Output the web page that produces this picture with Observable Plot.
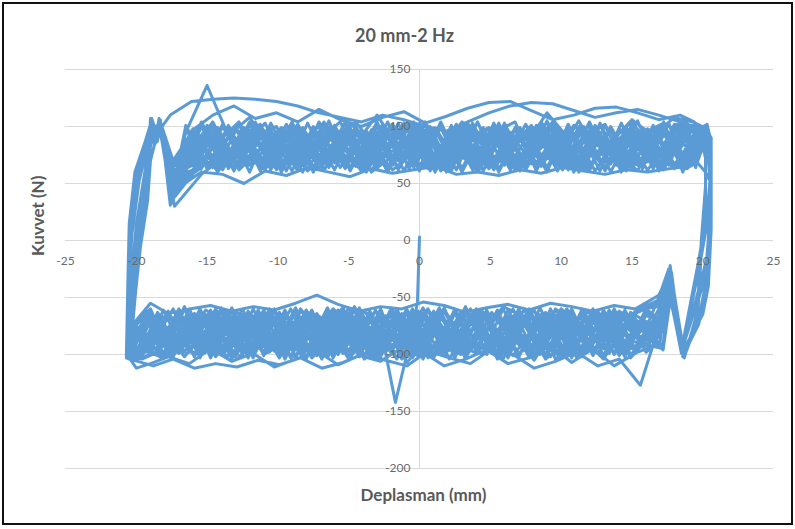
<!DOCTYPE html>
<html>
<head>
<meta charset="utf-8">
<script src="https://cdn.jsdelivr.net/npm/d3@7"></script>
<script src="https://cdn.jsdelivr.net/npm/@observablehq/plot@0.6"></script>
<style>
  html, body { margin: 0; padding: 0; background: #fff; }
  #wrap { position: relative; width: 795px; height: 529px; }
  #frame { position: absolute; left: 2px; top: 2px; width: 791px; height: 523px; border: 2px solid #111; box-sizing: border-box; pointer-events: none; }
</style>
</head>
<body>
<div id="wrap"><div id="frame"></div></div>
<script>
// ---- Chart texts ----
const chartTitle = "20 mm-2 Hz";
const xTitle = "Deplasman (mm)";
const yTitle = "Kuvvet (N)";
const xTicks = [-25, -20, -15, -10, -5, 0, 5, 10, 15, 20, 25];
const yTicks = [-200, -150, -100, -50, 0, 50, 100, 150];

// ---- Initial loading segment ----
const x0 = [0, -0.15, -0.9, -1.7, -2.5, -4, -5.5, -7, -8.5, -10, -11.5, -13, -14.5, -16, -17.5, -19, -20.3];
const f0 = [3, -55, -100, -142, -92, -74, -60, -84, -70, -96, -66, -82, -91, -70, -86, -97, -101];

// ---- Displacement sampling (four interleaved sets) ----
const xTopA = [-20.6,-20.6,-20.3,-19.8,-18.9,-18.6,-18.4,-17.5,
  -16.5,-15,-13.5,-12,-10.5,-9,-7.5,-6,-4.5,-3,-1.5,0,1.5,3,4.5,6,7.5,9,10.5,12,13.5,15,16.5,18,
  19.3,20.3,20.5];
const xTopB = [-20.5,-20.4,-20.0,-19.4,-19.0,-18.7,-18.3,-17.4,
  -16,-14.25,-12.75,-11.25,-9.75,-8.25,-6.75,-5.25,-3.75,-2.25,-0.75,0.75,2.25,3.75,5.25,6.75,8.25,9.75,11.25,12.75,14.25,15.75,17.25,18.6,
  19.6,20.4,20.5];
const xTopC = [-20.4,-20.1,-19.7,-19.2,-19.0,-18.6,-18.3,-17.6,
  -16.1,-14.6,-13.1,-11.6,-10.1,-8.6,-7.1,-5.6,-4.1,-2.6,-1.1,0.4,1.9,3.4,4.9,6.4,7.9,9.4,10.9,12.4,13.9,15.4,16.9,18.4,
  19.4,19.9,20.2];
const xTopD = [-20.7,-20.6,-20.5,-20.1,-18.9,-18.5,-18.4,-17.3,
  -15.4,-13.9,-12.4,-10.9,-9.4,-7.9,-6.4,-4.9,-3.4,-1.9,-0.4,1.1,2.6,4.1,5.6,7.1,8.6,10.1,11.6,13.1,14.6,16.1,17.6,18.9,
  19.5,20.2,20.6];
const xBotA = [20.5,20.4,20.1,19.7,18.6,17.7,17.0,
  16,14.5,13,11.5,10,8.5,7,5.5,4,2.5,1,-0.5,-2,-3.5,-5,-6.5,-8,-9.5,-11,-12.5,-14,-15.5,-17,
  -18.5,-19.6,-20.4];
const xBotB = [20.6,20.3,19.9,19.6,18.5,17.6,16.9,
  15.25,13.75,12.25,10.75,9.25,7.75,6.25,4.75,3.25,1.75,0.25,-1.25,-2.75,-4.25,-5.75,-7.25,-8.75,-10.25,-11.75,-13.25,-14.75,-16.25,-17.75,
  -19,-20,-20.6];
const xBotC = [20.2,19.9,19.7,19.5,18.7,17.7,17.1,
  15.6,14.1,12.6,11.1,9.6,8.1,6.6,5.1,3.6,2.1,0.6,-0.9,-2.4,-3.9,-5.4,-6.9,-8.4,-9.9,-11.4,-12.9,-14.4,-15.9,-17.4,
  -18.8,-19.9,-20.5];
const xBotD = [20.6,20.6,20.4,20.0,18.5,17.8,17.2,
  14.9,13.4,11.9,10.4,8.9,7.4,5.9,4.4,2.9,1.4,-0.1,-1.6,-3.1,-4.6,-6.1,-7.6,-9.1,-10.6,-12.1,-13.6,-15.1,-16.6,-18.1,
  -19.2,-20.1,-20.6];

// ---- Force readings, upper branch (moving right) per cycle ----
const topForces = [
  [-98,-42,12,58,106,92,105,34, 64,84,70,97,66,88,72,101,65,84,70,95,62,90,76,100,68,86,63,97,74,90,66,88, 80,96,82],
  [-102,-55,0,45,98,88,100,40, 75,96,62,80,99,68,90,64,95,78,104,66,86,70,99,63,92,75,105,70,84,64,100,72, 92,86,70],
  [-95,-50,-5,35,70,90,98,110, 122,124,125,124,122,118,112,108,104,110,106,100,96,104,112,118,121,120,114,108,112,115,110,104, 100,90,75],
  [-100,-38,15,60,104,94,107,30, 58,72,90,67,83,61,78,96,60,74,92,68,81,60,88,70,65,94,61,79,90,62,85,69, 75,100,88],
  [-97,-45,8,52,100,86,102,45, 95,136,92,108,80,102,77,93,85,110,82,96,79,104,88,98,84,112,90,100,86,106,92,108, 104,98,85],
  [-104,-60,-8,40,95,85,97,50, 70,65,88,74,62,85,98,71,66,90,73,62,96,77,69,87,99,66,73,92,68,97,73,64, 90,70,55],
  [-99,-47,5,50,107,90,104,36, 80,70,99,85,74,102,69,80,97,72,86,104,71,82,64,95,79,70,101,84,76,66,96,80, 102,94,78],
  [-101,-52,2,48,102,91,103,38, 68,100,76,64,93,81,67,103,84,62,77,99,70,94,82,66,103,77,88,64,98,83,71,94, 76,88,66],
  [-96,-44,10,56,105,93,106,35, 88,78,66,101,90,76,64,87,104,80,65,88,100,73,62,81,92,103,77,65,87,104,79,63, 70,92,80],
  [-103,-58,-3,42,97,84,99,48, 62,86,104,70,77,95,63,82,71,98,88,66,74,101,64,85,96,72,61,89,80,67,92,98, 96,80,62],
  [-98,-41,14,59,106,89,101,42, 96,110,118,107,112,104,115,106,100,108,113,103,109,116,121,122,114,106,110,116,117,112,106,110, 104,95,82],
  [-100,-50,6,50,101,88,100,44, 60,58,50,61,57,64,60,56,63,59,62,65,58,60,57,62,59,64,61,58,62,60,63,65, 70,60,50],
  [-97,-48,6,52,103,89,106,40, 98,63,101,66,97,61,100,68,95,62,103,65,99,60,96,67,102,64,98,61,100,66,97,63, 92,99,84],
  [-101,-40,14,60,95,100,92,55, 62,99,64,102,67,96,61,98,65,104,63,97,66,101,62,99,68,95,60,103,64,98,62,100, 70,94,88],
  [-95,-52,-2,44,88,96,102,62, 80,104,70,92,62,85,100,64,90,72,103,67,88,98,63,82,101,70,94,61,87,104,66,91, 96,90,72],
  [-103,-44,11,57,106,93,103,45, 100,66,84,103,62,93,70,99,61,86,104,69,92,63,100,74,96,62,89,102,65,95,70,103, 64,98,90],
  [-98,-39,16,61,107,91,105,33, 66,101,63,95,68,104,60,97,65,100,62,94,67,102,61,98,64,105,62,96,68,101,63,99, 88,102,92],
  [-100,-57,-4,41,82,98,104,70, 96,60,90,102,64,97,67,103,60,92,99,62,101,66,95,104,61,99,65,102,60,94,103,66, 100,84,66],
  [-96,-43,10,55,104,88,101,38, 72,97,61,104,66,99,63,94,70,102,61,97,65,103,63,94,69,101,60,98,66,105,61,96, 74,97,79],
  [-102,-50,3,49,100,94,99,52, 104,68,99,62,96,71,104,61,97,66,100,63,102,69,96,61,104,66,99,63,97,70,102,64, 96,101,86],
  [-99,-45,8,53,106,92,105,37, 63,96,67,103,62,99,64,97,69,104,62,95,66,100,61,103,65,97,62,104,67,99,64,102, 99,93,80],
  [-104,-54,1,46,92,99,97,64, 95,62,104,65,98,60,101,67,96,63,104,61,99,66,95,62,101,68,97,61,103,64,96,62, 68,96,90],
  [-97,-41,13,59,105,90,106,31, 84,64,100,70,93,61,104,78,64,99,70,95,62,103,74,66,98,80,62,101,69,94,64,104, 82,100,85],
  [-100,-47,7,51,101,87,103,47, 64,102,75,62,97,68,105,62,88,101,64,96,70,104,63,93,100,65,91,62,99,71,103,66, 78,94,74],
  [-99,-44,9,54,104,91,104,39, 101,64,98,60,103,67,95,62,100,65,97,61,104,63,99,66,96,60,102,64,98,62,101,67, 86,97,83],
  [-101,-49,4,50,99,95,101,58, 66,97,63,101,60,99,68,104,62,96,65,100,61,103,67,97,63,99,60,102,66,96,64,104, 98,88,74],
  [-97,-46,8,53,105,89,105,42, 86,100,62,94,78,66,103,85,61,97,76,104,64,90,99,62,84,103,67,95,80,61,100,73, 92,96,81],
  [-102,-53,0,47,94,97,98,60, 103,62,96,67,102,61,99,64,97,68,101,60,95,65,103,62,98,66,100,61,96,69,102,63, 72,99,87],
  [-98,-43,11,57,106,92,103,35, 61,99,66,104,63,97,60,101,67,95,64,103,61,98,68,100,62,96,65,104,60,97,67,101, 95,100,89],
  [-100,-56,-3,43,86,99,103,66, 98,65,102,61,97,66,104,63,96,60,101,67,98,62,103,64,95,61,100,68,97,63,104,60, 101,90,70],
  [-96,-42,12,58,107,90,106,32, 75,103,64,92,100,61,88,104,66,95,73,102,60,91,97,65,83,104,62,99,71,96,63,105, 80,98,84],
  [-103,-51,2,48,97,96,100,57, 63,100,67,96,61,103,64,98,60,102,66,97,62,104,60,99,67,95,63,101,61,98,66,103, 69,95,86]
];

// ---- Force readings, lower branch (moving left) per cycle ----
const botForces = [
  [45,-5,-48,-72,-101,-26,-70, -82,-66,-95,-74,-60,-88,-99,-70,-62,-91,-78,-103,-66,-84,-72,-98,-64,-86,-93,-68,-80,-100,-74, -88,-96,-100],
  [60,18,-8,-28,-97,-38,-55, -64,-90,-71,-99,-83,-63,-77,-96,-88,-61,-74,-92,-68,-101,-79,-65,-94,-72,-85,-62,-97,-76,-66, -70,-98,-95],
  [35,-10,-55,-75,-102,-24,-68, -127,-104,-110,-98,-106,-112,-100,-95,-108,-103,-97,-110,-105,-99,-107,-112,-103,-109,-105,-111,-108,-112,-104, -110,-106,-104],
  [55,10,-40,-65,-99,-45,-92, -70,-85,-62,-79,-94,-67,-58,-83,-97,-72,-64,-89,-100,-75,-60,-81,-95,-69,-86,-73,-61,-90,-82, -62,-92,-98],
  [42,-2,-52,-70,-100,-25,-74, -92,-75,-104,-86,-70,-99,-80,-66,-93,-84,-102,-71,-88,-96,-67,-85,-101,-78,-69,-95,-87,-72,-99, -84,-101,-97],
  [65,22,-5,-25,-96,-30,-48, -60,-57,-62,-58,-55,-61,-56,-59,-63,-57,-54,-60,-58,-62,-56,-48,-55,-61,-58,-62,-57,-60,-64, -55,-70,-90],
  [48,0,-45,-68,-103,-27,-71, -77,-98,-68,-88,-75,-105,-82,-64,-96,-73,-87,-107,-70,-91,-63,-84,-100,-66,-93,-79,-102,-69,-87, -78,-105,-103],
  [58,15,-12,-32,-98,-35,-95, -88,-69,-80,-101,-63,-90,-72,-99,-81,-66,-95,-76,-62,-92,-83,-103,-71,-89,-65,-97,-74,-86,-104, -95,-84,-99],
  [38,-8,-54,-74,-101,-23,-69, -66,-94,-83,-70,-102,-91,-62,-80,-99,-88,-69,-64,-97,-81,-104,-74,-62,-90,-100,-71,-83,-95,-67, -72,-88,-104],
  [62,20,-6,-27,-99,-42,-60, -99,-110,-95,-107,-92,-103,-108,-96,-104,-110,-98,-94,-106,-101,-109,-97,-104,-111,-99,-106,-95,-108,-102, -108,-112,-101],
  [44,-3,-50,-71,-100,-26,-73, -73,-62,-87,-96,-68,-77,-101,-85,-70,-93,-60,-79,-98,-86,-66,-75,-92,-63,-84,-104,-77,-65,-93, -66,-80,-96],
  [56,12,-20,-40,-97,-30,-77, -95,-81,-67,-90,-104,-72,-86,-65,-92,-100,-78,-69,-88,-58,-95,-82,-71,-98,-64,-89,-80,-102,-76, -90,-100,-94],
  [50,2,-45,-70,-100,-22,-88, -98,-61,-101,-64,-96,-59,-103,-63,-97,-60,-100,-66,-95,-62,-102,-59,-97,-65,-101,-60,-96,-63,-99, -66,-97,-101],
  [62,16,-10,-30,-98,-40,-52, -62,-99,-60,-103,-65,-97,-61,-100,-58,-96,-64,-104,-60,-98,-63,-101,-59,-95,-66,-102,-61,-97,-64, -94,-75,-98],
  [40,-6,-52,-73,-102,-25,-71, -80,-100,-63,-90,-104,-61,-86,-99,-65,-94,-60,-102,-75,-62,-98,-84,-60,-103,-70,-96,-62,-101,-79, -100,-94,-99],
  [58,12,-18,-36,-97,-28,-62, -101,-64,-96,-60,-103,-66,-98,-62,-100,-59,-95,-63,-104,-61,-97,-65,-102,-60,-99,-62,-96,-58,-101, -64,-85,-97],
  [47,-1,-47,-69,-101,-24,-70, -63,-97,-61,-101,-66,-95,-60,-104,-64,-99,-62,-96,-59,-102,-65,-98,-61,-100,-63,-97,-60,-103,-66, -98,-104,-100],
  [64,20,-4,-26,-96,-45,-85, -96,-60,-99,-66,-102,-61,-97,-63,-104,-59,-98,-64,-100,-62,-95,-67,-103,-60,-97,-62,-101,-65,-96, -60,-72,-93],
  [43,-4,-51,-72,-100,-26,-74, -70,-96,-62,-103,-68,-99,-60,-94,-72,-104,-61,-97,-66,-101,-59,-98,-70,-103,-63,-95,-68,-102,-60, -89,-99,-103],
  [60,17,-9,-30,-99,-36,-70, -103,-67,-98,-61,-100,-69,-104,-62,-96,-65,-102,-60,-99,-68,-103,-61,-95,-66,-101,-63,-98,-60,-104, -70,-93,-100],
  [46,-3,-49,-71,-101,-27,-72, -61,-102,-65,-97,-60,-100,-63,-104,-62,-95,-67,-101,-60,-99,-64,-103,-61,-96,-66,-100,-59,-98,-63, -101,-96,-104],
  [57,14,-14,-34,-97,-25,-50, -99,-63,-101,-60,-96,-65,-103,-61,-98,-62,-104,-66,-97,-59,-100,-64,-102,-61,-95,-67,-103,-60,-99, -62,-80,-96],
  [41,-7,-53,-73,-102,-25,-69, -85,-62,-99,-73,-60,-103,-80,-64,-97,-70,-101,-61,-88,-104,-66,-93,-60,-100,-77,-63,-98,-68,-102, -80,-102,-99],
  [59,15,-11,-31,-98,-44,-96, -64,-98,-82,-60,-102,-69,-95,-61,-100,-86,-62,-104,-71,-97,-60,-90,-103,-65,-99,-61,-94,-74,-101, -66,-88,-98],
  [49,1,-46,-70,-101,-26,-71, -97,-62,-102,-60,-98,-65,-101,-61,-96,-64,-103,-60,-99,-66,-97,-62,-104,-61,-98,-65,-100,-60,-96, -63,-95,-102],
  [61,19,-7,-29,-98,-33,-58, -61,-100,-64,-97,-60,-103,-66,-98,-62,-101,-59,-96,-65,-102,-61,-99,-63,-97,-60,-104,-64,-98,-62, -99,-78,-97],
  [44,-4,-50,-72,-100,-25,-72, -90,-64,-99,-78,-61,-103,-87,-63,-97,-72,-102,-60,-94,-83,-62,-104,-69,-96,-61,-100,-81,-64,-98, -74,-100,-101],
  [59,14,-13,-33,-97,-40,-90, -100,-61,-97,-65,-103,-60,-99,-64,-96,-62,-102,-66,-98,-60,-101,-63,-95,-61,-103,-65,-97,-60,-100, -62,-86,-98],
  [46,-2,-49,-71,-102,-24,-70, -60,-98,-63,-102,-61,-96,-66,-100,-60,-103,-64,-97,-62,-101,-59,-98,-65,-104,-61,-96,-63,-100,-60, -97,-103,-99],
  [63,18,-6,-28,-99,-27,-66, -98,-66,-101,-62,-96,-60,-103,-63,-99,-61,-97,-65,-102,-60,-100,-64,-96,-62,-103,-59,-98,-66,-101, -61,-74,-95],
  [40,-7,-53,-74,-101,-27,-73, -75,-101,-62,-92,-66,-104,-70,-97,-60,-88,-103,-64,-95,-61,-99,-78,-62,-102,-67,-93,-60,-100,-71, -92,-98,-104],
  [57,13,-16,-35,-98,-38,-80, -63,-99,-61,-102,-65,-96,-60,-101,-63,-98,-66,-104,-61,-97,-64,-100,-60,-95,-62,-103,-65,-98,-61, -96,-82,-99]
];

// ---- Build one continuous path ----
const topGrids = [xTopA, xTopB, xTopC, xTopD];
const botGrids = [xBotA, xBotB, xBotC, xBotD];
const points = [];
x0.forEach((x, i) => points.push({x, y: f0[i]}));
topForces.forEach((tf, c) => {
  const xt = topGrids[c % 4];
  const xb = botGrids[c % 4];
  tf.forEach((y, i) => { if (xt[i] !== undefined) points.push({x: xt[i], y}); });
  botForces[c].forEach((y, i) => { if (xb[i] !== undefined) points.push({x: xb[i], y}); });
});

const textColor = "#595959";
const tickColor = "#6b6b6b";
const gridColor = "#d9d9d9";

const chart = Plot.plot({
  width: 795,
  height: 529,
  marginLeft: 65,
  marginRight: 22,
  marginTop: 69,
  marginBottom: 61,
  style: {fontFamily: "Lato, 'Open Sans', sans-serif", fontSize: "12px", background: "transparent", overflow: "visible"},
  x: {domain: [-25, 25], axis: null},
  y: {domain: [-200, 150], axis: null},
  marks: [
    Plot.ruleY(yTicks, {stroke: gridColor, strokeWidth: 1}),
    Plot.ruleX([0], {stroke: gridColor, strokeWidth: 1}),
    Plot.ruleY(yTicks, {x1: -0.35, x2: 0, stroke: gridColor, strokeWidth: 1}),
    Plot.line(points, {x: "x", y: "y", stroke: "#5b9bd5", strokeWidth: 3, strokeLinejoin: "round", curve: "linear"}),
    Plot.text(xTicks, {x: d => d, y: 0, dy: 21, text: d => String(d), fill: tickColor, fontSize: 12}),
    Plot.text(yTicks, {x: 0, y: d => d, dx: -9, textAnchor: "end", text: d => String(d), fill: tickColor, fontSize: 12}),
    Plot.text([chartTitle], {frameAnchor: "top", lineAnchor: "middle", dx: -15, dy: -33, text: d => d, fill: textColor, fontSize: 18, fontWeight: "bold"}),
    Plot.text([xTitle], {frameAnchor: "bottom", lineAnchor: "middle", dx: 4, dy: 27, text: d => d, fill: textColor, fontSize: 17, fontWeight: "bold"}),
    Plot.text([yTitle], {frameAnchor: "left", lineAnchor: "middle", dx: -27, dy: -13, rotate: -90, text: d => d, fill: textColor, fontSize: 17, fontWeight: "bold"})
  ]
});
document.getElementById("wrap").prepend(chart);
</script>
</body>
</html>
